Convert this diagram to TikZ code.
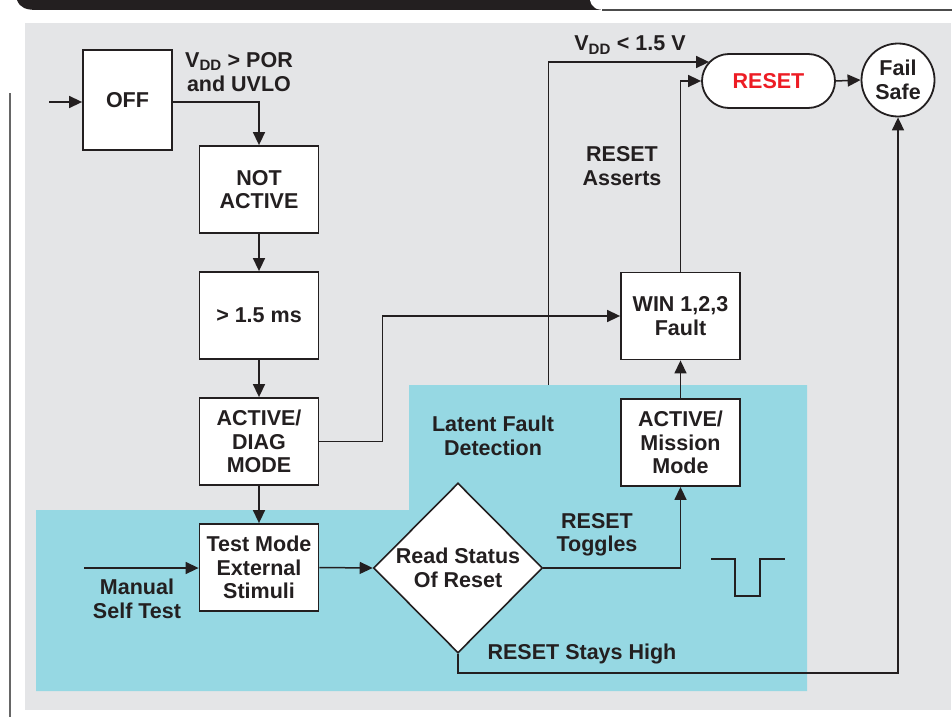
\documentclass[tikz,border=0pt]{standalone}
\usepackage{fontspec}
\setmainfont{Liberation Sans}
\usetikzlibrary{shapes.geometric,arrows.meta,positioning,calc}
\definecolor{inkdark}{RGB}{35,31,32}
\definecolor{panelgrey}{RGB}{228,229,231}
\definecolor{latcyan}{RGB}{150,216,227}
\definecolor{rstred}{RGB}{237,28,36}

\begin{document}
\begin{tikzpicture}[x=1pt,y=-1pt,node distance=37.2pt,
  every node/.style={font=\fontsize{21.5}{23.5}\selectfont\bfseries,text=inkdark},
  blk/.style={draw=inkdark,line width=1.8pt,fill=white,minimum width=119pt,
              minimum height=87pt,inner sep=2pt,align=center},
  dmd/.style={diamond,draw=inkdark,line width=1.6pt,fill=white,minimum width=169pt,
              minimum height=170pt,inner sep=0pt,align=center},
  stad/.style={draw=inkdark,line width=1.8pt,fill=white,rounded corners=27pt,
               minimum width=133pt,minimum height=54pt,text=rstred},
  circ/.style={circle,draw=inkdark,line width=1.8pt,fill=white,minimum size=73pt,
               inner sep=0pt,align=center},
  lbl/.style={inner sep=0pt,align=center},
  wire/.style={inkdark,line width=1.5pt},
  ar/.style={wire,-{Triangle[length=13pt,width=12pt]}}]
\useasboundingbox (0,0) rectangle (952,717);

\fill[inkdark] (17,0) .. controls (20,8) and (26,10) .. (38,10) -- (606,10) -- (606,0) -- cycle;
\fill[white] (590,0) .. controls (592,8) and (596,10) .. (606,10) -- (952,10) -- (952,0) -- cycle;
\draw[black!70,line width=1.5pt] (602,10) -- (952,10);
\draw[black!60,line width=1.5pt] (10,93) -- (10,717);

\fill[panelgrey] (25,23) rectangle (951,710);
\fill[latcyan] (36,510) -- (409,510) -- (409,385) -- (807,385) -- (807,691) -- (36,691) -- cycle;
\coordinate (lfd) at (548.5,385);
\coordinate (ent) at (49,102);
\coordinate (man) at (84,568);

\node[blk,minimum width=89pt,minimum height=100pt] (off) at (127.5,100) {OFF};
\node[blk] (notact) at (259,189.5) {NOT\\ACTIVE};
\node[blk,below=of notact] (dly) {> 1.5 ms};
\node[blk,below=of dly] (diag) {ACTIVE/\\DIAG\\MODE};
\node[blk,below=of diag] (tstm) {Test Mode\\External\\Stimuli};
\node[dmd] (rdstat) at (458,568) {Read Status\\Of Reset};
\node[blk] (miss) at (680.5,442.5) {ACTIVE/\\Mission\\Mode};
\node[blk] (win) at (680.5,316) {WIN 1,2,3\\Fault};
\node[stad] (rst) at (768.5,81) {RESET};
\node[circ] (fsafe) at (898,80) {Fail\\Safe};

\node[lbl] (vpor) at (239,72) {V\textsubscript{DD} > POR\\and UVLO};
\node[lbl] (vlow) at (630,45) {V\textsubscript{DD} < 1.5 V};
\node[lbl] (asrt) at (622,166) {RESET\\Asserts};
\node[lbl] (tgl) at (597,535) {RESET\\Toggles};
\node[lbl] (high) at (582,654) {RESET Stays High};
\node[lbl] (latent) at (493,436) {Latent Fault\\Detection};
\node[lbl] (manual) at (137,599) {Manual\\Self Test};

\draw[wire,line width=1.8pt] (711,559) -- (735,559) -- (735,596) -- (760,596) -- (760,559) -- (785,559);

\draw[ar] (ent) -- (ent -| off.west);
\draw[ar] (off.east |- ent) -| (notact.north);
\foreach \a/\b in {notact/dly, dly/diag, diag/tstm, miss/win}
  \draw[ar] (\a) -- (\b);
\draw[ar] (man) -- (man -| tstm.west);
\draw[ar] (tstm.east) -- (rdstat.west);
\draw[ar] (rdstat.east) -| (miss.south);
\draw[ar] (rdstat.south) -- ++(0,19) -| (fsafe.south);
\draw[ar] (diag.east) -- ++(63,0) |- (win.west);
\draw[ar] (win.north) |- (rst.west);
\draw[ar] (lfd) |- ($(rst.west)+(8,-19)$);
\draw[ar] (rst.east) -- (fsafe.west);
\end{tikzpicture}
\end{document}
